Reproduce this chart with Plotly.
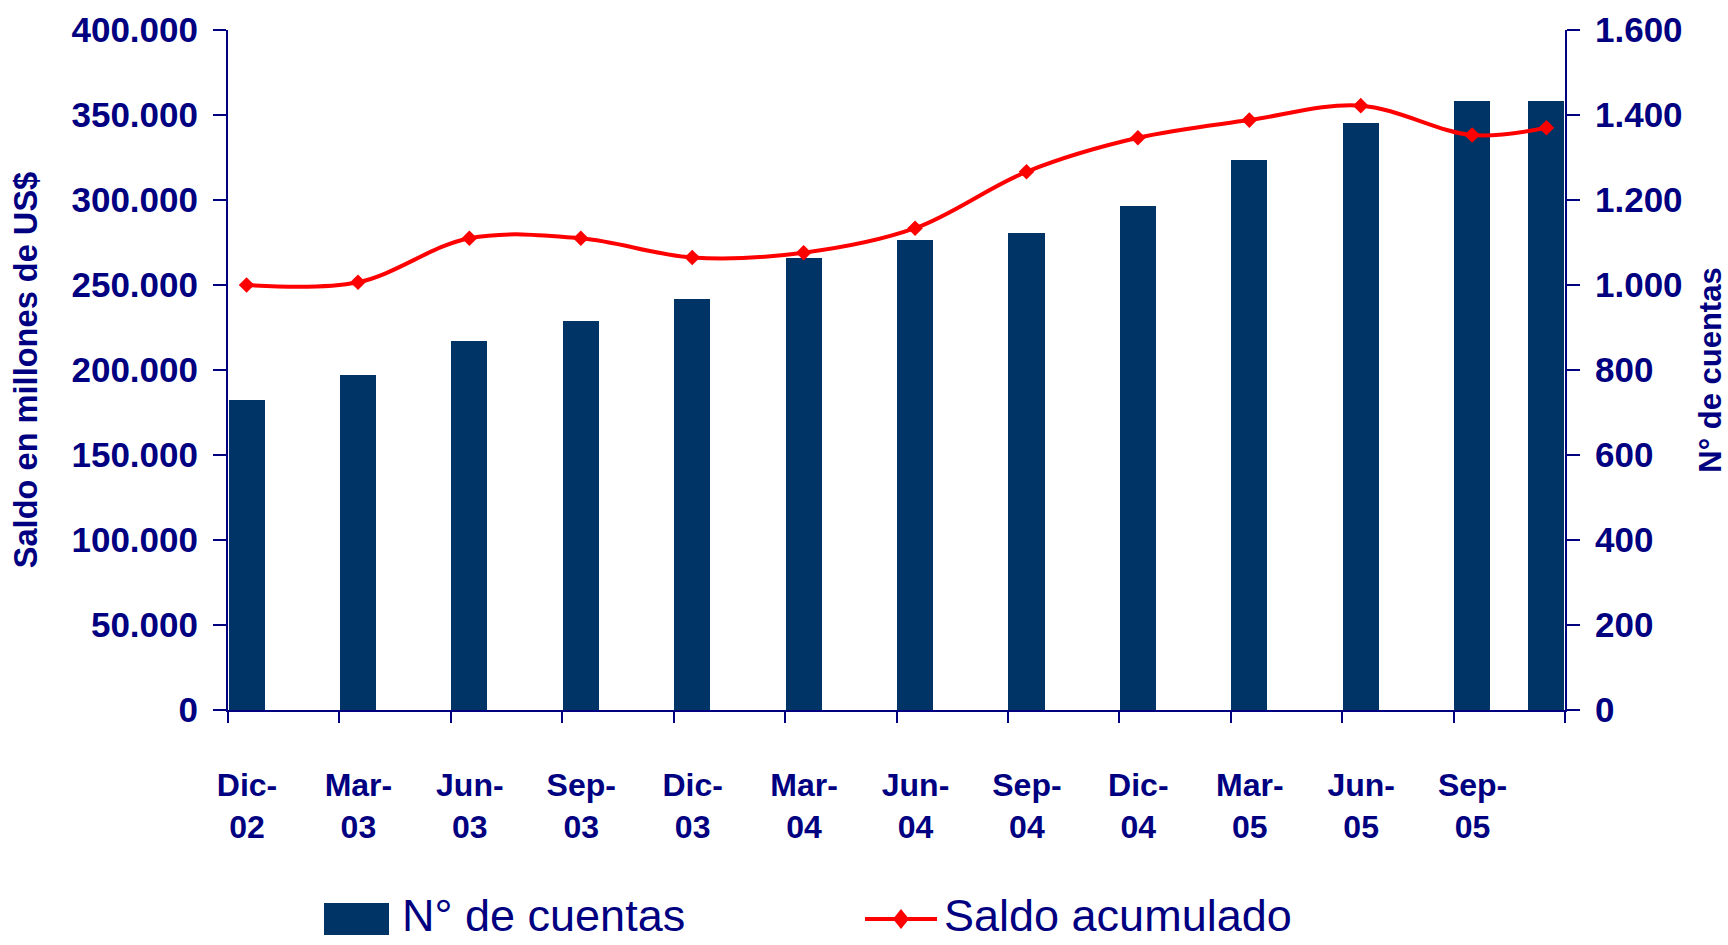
import plotly.graph_objects as go

# ---------------- data ----------------
MESES = {"Ene": 1, "Feb": 2, "Mar": 3, "Abr": 4, "May": 5, "Jun": 6,
         "Jul": 7, "Ago": 8, "Sep": 9, "Oct": 10, "Nov": 11, "Dic": 12}

fechas = ["Dic-02", "Mar-03", "Jun-03", "Sep-03", "Dic-03", "Mar-04", "Jun-04",
          "Sep-04", "Dic-04", "Mar-05", "Jun-05", "Sep-05", "Nov-05"]
num_cuentas = [729, 788, 868, 915, 967, 1064, 1106, 1122, 1186, 1294, 1381, 1433, 1433]
saldo_acumulado = [250000, 251600, 277500, 277500, 266200, 269000, 283400,
                   316600, 336600, 347000, 355500, 338200, 342500]
tick_labels = ["Dic-02", "Mar-03", "Jun-03", "Sep-03", "Dic-03", "Mar-04",
               "Jun-04", "Sep-04", "Dic-04", "Mar-05", "Jun-05", "Sep-05"]

y_left_title = "Saldo en millones de US$"
y_right_title = "N° de cuentas"
serie_barras = "N° de cuentas"
serie_linea = "Saldo acumulado"


def month_index(lbl):
    m, y = lbl.split("-")
    return (2000 + int(y)) * 12 + MESES[m] - (2002 * 12 + 12)


x_pos = [month_index(f) for f in fechas]
x_min = x_pos[0] - 0.5
x_max = x_pos[-1] + 0.5
tick_pos = [month_index(t) - 0.5 for t in tick_labels] + [x_max]
tick_txt = [t.replace("-", "-<br>") for t in tick_labels] + [""]

# ---------------- style ----------------
W, H = 1728, 945
L, R, T, B = 228, 163, 30, 235
NAVY = "#000080"
BAR = "#003366"
RED = "#FF0000"
FONT = "Liberation Sans, Arial, sans-serif"

plot_w = W - L - R
plot_h = H - T - B
cat_px = plot_w / (x_max - x_min)


def px(x):
    return (x - L) / plot_w


def py(y):
    return (H - B - y) / plot_h


fig = go.Figure()

fig.add_trace(go.Bar(
    x=x_pos, y=num_cuentas, name=serie_barras,
    marker=dict(color=BAR, line=dict(width=0)),
    width=0.97, xaxis="x", yaxis="y", showlegend=False,
))

fig.add_trace(go.Scatter(
    x=x_pos, y=saldo_acumulado, name=serie_linea, mode="lines+markers",
    line=dict(color=RED, width=4, shape="spline", smoothing=1.0),
    marker=dict(symbol="diamond", size=12, color=RED),
    xaxis="x", yaxis="y2", showlegend=False,
))

axis_common = dict(
    showline=True, linecolor=NAVY, linewidth=2, showgrid=False, zeroline=False,
    ticks="outside", tickcolor=NAVY, tickwidth=2, ticklen=13,
    tickfont=dict(family=FONT, size=35, color=NAVY, weight="bold"),
    tickformat=",d", automargin=False,
)

fig.update_layout(
    width=W, height=H,
    margin=dict(l=L, r=R, t=T, b=B, autoexpand=False),
    paper_bgcolor="white", plot_bgcolor="white",
    separators=",.",
    bargap=0,
    showlegend=False,
    xaxis=dict(
        range=[x_min, x_max], tickmode="array", tickvals=tick_pos, ticktext=tick_txt,
        showline=True, linecolor=NAVY, linewidth=2, showgrid=False, zeroline=False,
        ticks="outside", tickcolor=NAVY, tickwidth=2, ticklen=11, automargin=False,
        ticklabelshift=int(round(cat_px / 2)), ticklabelstandoff=35,
        tickfont=dict(family=FONT, size=32, color=NAVY, weight="bold"),
    ),
    yaxis=dict(
        range=[0, 1600], dtick=200, side="right", **axis_common,
        ticklabelstandoff=8,
        title=dict(text=y_right_title, standoff=20,
                   font=dict(family=FONT, size=31, color=NAVY, weight="bold")),
    ),
    yaxis2=dict(
        range=[0, 400000], dtick=50000, side="left", overlaying="y", **axis_common,
        ticklabelstandoff=8,
        title=dict(text=y_left_title, standoff=24,
                   font=dict(family=FONT, size=32.6, color=NAVY, weight="bold")),
    ),
)

# ---------------- legend (drawn) ----------------
LEG_Y = 919
shapes = [
    dict(type="rect", xref="paper", yref="paper",
         x0=px(324), x1=px(389), y0=py(LEG_Y + 16), y1=py(LEG_Y - 16),
         fillcolor=BAR, line=dict(width=0)),
    dict(type="line", xref="paper", yref="paper",
         x0=px(865), x1=px(937), y0=py(LEG_Y), y1=py(LEG_Y),
         line=dict(color=RED, width=4)),
    dict(type="path", xref="paper", yref="paper",
         path=(f"M {px(893)},{py(LEG_Y)} L {px(901)},{py(LEG_Y - 10)} "
               f"L {px(909)},{py(LEG_Y)} L {px(901)},{py(LEG_Y + 10)} Z"),
         fillcolor=RED, line=dict(width=0)),
]
annotations = [
    dict(text=serie_barras, xref="paper", yref="paper", x=px(400), y=py(LEG_Y - 4),
         xanchor="left", yanchor="middle", showarrow=False,
         font=dict(family=FONT, size=45, color=NAVY)),
    dict(text=serie_linea, xref="paper", yref="paper", x=px(942), y=py(LEG_Y - 4),
         xanchor="left", yanchor="middle", showarrow=False,
         font=dict(family=FONT, size=45, color=NAVY)),
]
fig.update_layout(shapes=shapes, annotations=annotations)

fig.write_html("out.html",
               config={"displayModeBar": False},
               post_script="document.body.style.margin='0';document.body.style.overflow='hidden';")
